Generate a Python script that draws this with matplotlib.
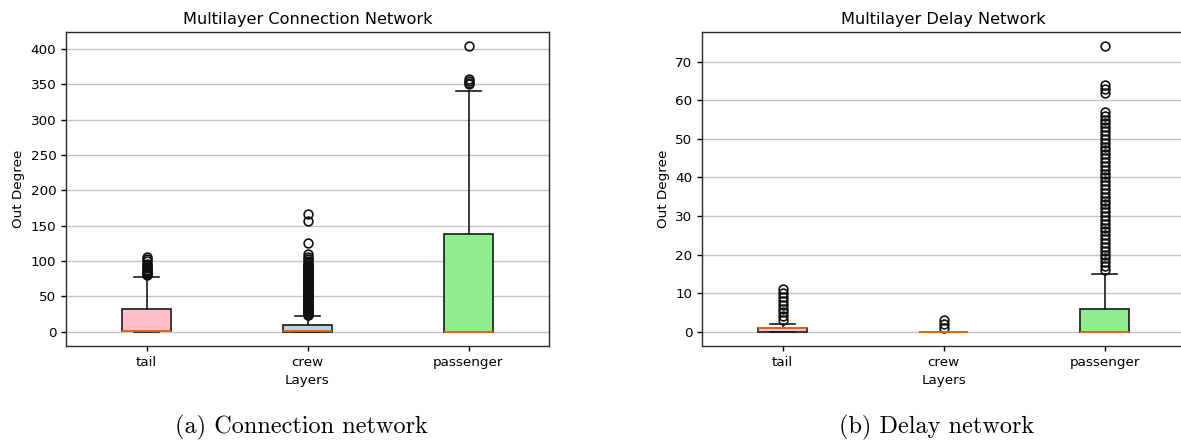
import numpy as np
import matplotlib
matplotlib.use("Agg")
from matplotlib import pyplot as plt

layers = ["tail", "crew", "passenger"]
box_colors = ["pink", "lightblue", "lightgreen"]

# connection network: box stats per layer (q1, median, q3, whisker low, whisker high)
conn_q1 = [1, 0, 0]
conn_med = [1, 1, 0]
conn_q3 = [32, 9, 139]
conn_whislo = [0, 0, 0]
conn_whishi = [78, 22, 340]
conn_fliers_tail = [80, 81, 82, 83, 84, 85, 86, 88, 90, 92, 94, 96, 100, 103, 106]
conn_fliers_crew = [23, 24, 25, 26, 27, 28, 29, 30, 31, 32, 33, 34, 35, 36, 37, 38,
                    39, 40, 41, 42, 43, 44, 45, 46, 47, 48, 49, 50, 51, 52, 53, 54,
                    55, 56, 57, 58, 59, 60, 61, 62, 63, 64, 65, 66, 67, 68, 69, 70,
                    71, 72, 73, 74, 75, 76, 77, 78, 79, 80, 81, 82, 83, 84, 85, 86,
                    87, 88, 89, 90, 91, 92, 93, 94, 95, 97, 100, 103, 106, 110,
                    126, 157, 166]
conn_fliers_pass = [350, 352, 355, 358, 404]

# delay network
delay_q1 = [0, 0, 0]
delay_med = [1, 0, 0]
delay_q3 = [1, 0, 6]
delay_whislo = [0, 0, 0]
delay_whishi = [2, 0, 15]
delay_fliers_tail = [3, 4, 5, 6, 7, 8, 9, 10, 11]
delay_fliers_crew = [1, 2, 3]
delay_fliers_pass = [16, 17, 18, 19, 20, 21, 22, 23, 24, 25, 26, 27, 28, 29, 30,
                     31, 32, 33, 34, 35, 36, 37, 38, 39, 40, 41, 42, 43, 44, 45,
                     46, 47, 48, 49, 50, 51, 52, 53, 54, 55, 56, 57, 62, 63, 64, 74]


def make_stats(q1, med, q3, lo, hi, fliers):
    stats = []
    for i in range(len(layers)):
        stats.append(dict(label=layers[i], q1=q1[i], med=med[i], q3=q3[i],
                          whislo=lo[i], whishi=hi[i], fliers=np.array(fliers[i])))
    return stats


def draw(ax, stats, title):
    lw = 1.2
    bp = ax.bxp(stats, patch_artist=True,
                boxprops=dict(linewidth=lw, edgecolor="#1a1a1a"),
                whiskerprops=dict(linewidth=lw, color="#1a1a1a"),
                capprops=dict(linewidth=lw, color="#1a1a1a"),
                medianprops=dict(linewidth=1.4, color="#e06b10"),
                flierprops=dict(markersize=6.3, markeredgewidth=1.2,
                                markeredgecolor="#111111"))
    for patch, c in zip(bp["boxes"], box_colors):
        patch.set_facecolor(c)
    ax.set_title(title, fontsize=11.6)
    ax.set_xlabel("Layers", fontsize=9.7)
    ax.set_ylabel("Out Degree", fontsize=9.7)
    ax.yaxis.grid(True, color="#c4c4c4", linewidth=1.0)
    ax.set_axisbelow(True)
    ax.tick_params(labelsize=9.7, width=1.0)
    for s in ax.spines.values():
        s.set_linewidth(1.0)
        s.set_color("#2b2b2b")


fig = plt.figure(figsize=(11.81, 4.41), dpi=100)
W, H = 1181, 441
ax1 = fig.add_axes([66 / W, (H - 346) / H, 483 / W, 314 / H])
ax2 = fig.add_axes([702 / W, (H - 346) / H, 483 / W, 314 / H])

draw(ax1, make_stats(conn_q1, conn_med, conn_q3, conn_whislo, conn_whishi,
                     [conn_fliers_tail, conn_fliers_crew, conn_fliers_pass]),
     "Multilayer Connection Network")
draw(ax2, make_stats(delay_q1, delay_med, delay_q3, delay_whislo, delay_whishi,
                     [delay_fliers_tail, delay_fliers_crew, delay_fliers_pass]),
     "Multilayer Delay Network")

fig.text(301 / W, 1 - 427 / H, "(a) Connection network", family="cmr10",
         fontsize=17.5, ha="center", va="center")
fig.text(937 / W, 1 - 427 / H, "(b) Delay network", family="cmr10",
         fontsize=17.5, ha="center", va="center")

fig.savefig("out.png", dpi=100)
